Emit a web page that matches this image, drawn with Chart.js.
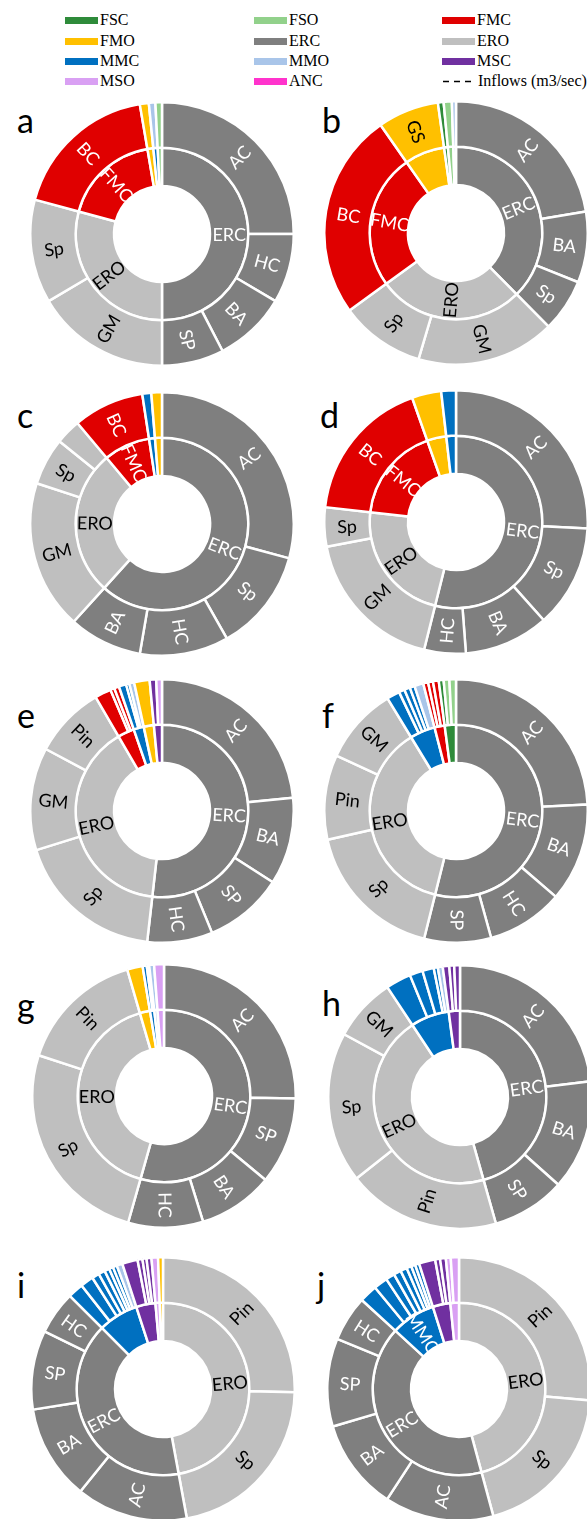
<!DOCTYPE html>
<html>
<head>
<meta charset="utf-8">
<script src="https://cdn.jsdelivr.net/npm/chart.js@4.4.1/dist/chart.umd.min.js"></script>
<style>
  html, body { margin:0; padding:0; background:#fff; }
  body { width:587px; height:1519px; position:relative; overflow:hidden; }
  .leg { position:absolute; font-family:'Liberation Serif','Times New Roman',serif; font-size:16px; color:#000; line-height:16px; white-space:nowrap; }
  .sw { position:absolute; width:33px; height:7px; }
  .dash { position:absolute; }
  .letter { position:absolute; font-family:Lato,'Open Sans',sans-serif; font-size:34px; color:#000; line-height:1; }
  canvas { position:absolute; }
</style>
</head>
<body>
<script>
// ---------- legend ----------
const legendNames = ['FSC','FSO','FMC','FMO','ERC','ERO','MMC','MMO','MSC','MSO','ANC'];
const legendLineName = 'Inflows (m3/sec)';

// ---------- panel data (shares, % of total inflow) ----------
const aInnerCat = ['ERC','ERO','FMC','FMO','MMC','FSO'];
const aInnerVal = [50, 29.2, 18.1, 1.1, 0.8, 0.8];
const aInnerTxt = ['ERC','ERO','FMC','','',''];
const aOuterCat = ['ERC','ERC','ERC','ERC','ERO','ERO','FMC','FMO','MMO','FSO'];
const aOuterVal = [25, 8.5, 8.9, 7.6, 16.5, 12.7, 18.1, 1.1, 0.8, 0.8];
const aOuterTxt = ['AC','HC','BA','SP','GM','Sp','BC','','',''];

const bInnerCat = ['ERC','ERO','FMC','FMO','FSC','FSO','MMO'];
const bInnerVal = [37.6, 27.4, 25.3, 7.5, 0.7, 1.0, 0.5];
const bInnerTxt = ['ERC','ERO','FMC','','','',''];
const bOuterCat = ['ERC','ERC','ERC','ERO','ERO','FMC','FMO','FSC','FSO','MMO'];
const bOuterVal = [22.4, 8.7, 6.5, 17.0, 10.4, 25.3, 7.5, 0.7, 1.0, 0.5];
const bOuterTxt = ['AC','BA','Sp','GM','Sp','BC','GS','','',''];

const cInnerCat = ['ERC','ERO','FMC','MMC','FMO'];
const cInnerVal = [61.7, 27.2, 8.7, 1.1, 1.3];
const cInnerTxt = ['ERC','ERO','FMC','',''];
const cOuterCat = ['ERC','ERC','ERC','ERC','ERO','ERO','ERO','FMC','MMC','FMO'];
const cOuterVal = [29.2, 12.6, 10.9, 9.0, 18.3, 5.8, 3.1, 8.7, 1.1, 1.3];
const cOuterTxt = ['AC','Sp','HC','BA','GM','Sp','','BC','',''];

const dInnerCat = ['ERC','ERO','FMC','FMO','MMC'];
const dInnerVal = [53.9, 22.9, 17.8, 3.6, 1.8];
const dInnerTxt = ['ERC','ERO','FMC','',''];
const dOuterCat = ['ERC','ERC','ERC','ERC','ERO','ERO','FMC','FMO','MMC'];
const dOuterVal = [25.8, 12.6, 10.4, 5.1, 18.1, 4.8, 17.8, 3.6, 1.8];
const dOuterTxt = ['AC','Sp','BA','HC','GM','Sp','BC','',''];

const eInnerCat = ['ERC','ERO','FMC','MMC','FMO','MSC'];
const eInnerVal = [51.8, 39.8, 3.1, 1.9, 1.9, 1.5];
const eInnerTxt = ['ERC','ERO','','','',''];
const eOuterCat = ['ERC','ERC','ERC','ERC','ERO','ERO','ERO','FMC','FMC','FMC','MMC','MMC','MMO','FMO','MSC','MSO'];
const eOuterVal = [23.4, 10.7, 9.7, 8.0, 18.4, 12.6, 8.8, 2.0, 0.5, 0.6, 0.9, 0.4, 0.6, 1.9, 0.8, 0.7];
const eOuterTxt = ['AC','BA','SP','HC','Sp','GM','Pin','','','','','','','','',''];

const fInnerCat = ['ERC','ERO','MMC','FMC','FSC'];
const fInnerVal = [53.9, 37.4, 4.7, 1.9, 2.1];
const fInnerTxt = ['ERC','ERO','','',''];
const fOuterCat = ['ERC','ERC','ERC','ERC','ERO','ERO','ERO','MMC','MMC','MMC','MMC','MMO','FMC','FMC','FMC','FSC','FSO','FSO'];
const fOuterVal = [24.2, 12.1, 9.4, 8.2, 17.6, 10.4, 9.4, 1.6, 0.7, 0.7, 0.6, 1.1, 0.6, 0.6, 0.7, 0.6, 0.7, 0.8];
const fOuterTxt = ['AC','BA','HC','SP','Sp','Pin','GM','','','','','','','','','','',''];

const gInnerCat = ['ERC','ERO','FMO','MMC','MMO','MSO'];
const gInnerVal = [54.4, 41.1, 1.9, 0.8, 0.6, 1.2];
const gInnerTxt = ['ERC','ERO','','','',''];
const gOuterCat = ['ERC','ERC','ERC','ERC','ERO','ERO','FMO','MMC','MMC','MMO','MSO'];
const gOuterVal = [25.3, 10.7, 9.2, 9.2, 25.6, 15.5, 1.9, 0.5, 0.3, 0.6, 1.2];
const gOuterTxt = ['AC','SP','BA','HC','Sp','Pin','','','','',''];

const hInnerCat = ['ERC','ERO','MMC','MSC'];
const hInnerVal = [45.6, 45.1, 7.2, 2.1];
const hInnerTxt = ['ERC','ERO','',''];
const hOuterCat = ['ERC','ERC','ERC','ERO','ERO','ERO','MMC','MMC','MMC','MMC','MMO','MSC','MSC','MSC'];
const hOuterVal = [23.1, 13.5, 9.0, 18.8, 18.5, 7.8, 3.1, 1.6, 1.4, 0.5, 0.6, 0.8, 0.6, 0.7];
const hOuterTxt = ['AC','BA','SP','Pin','Sp','GM','','','','','','','',''];

const iInnerCat = ['ERO','ERC','MMC','MSC','MSO','FMO'];
const iInnerVal = [47.1, 40.4, 7.5, 3.6, 0.8, 0.6];
const iInnerTxt = ['ERO','ERC','','','',''];
const iOuterCat = ['ERO','ERO','ERC','ERC','ERC','ERC','MMC','MMC','MMC','MMC','MMC','MMC','MMC','MMO','MSC','MSC','MSC','MSC','MSO','FMO'];
const iOuterVal = [25.4, 21.7, 13.7, 11.7, 9.7, 5.3, 1.9, 1.6, 0.9, 0.8, 0.6, 0.5, 0.5, 0.7, 1.9, 0.6, 0.5, 0.6, 0.8, 0.6];
const iOuterTxt = ['Pin','Sp','AC','BA','SP','HC','','','','','','','','','','','','','',''];

const jInnerCat = ['ERO','ERC','MMC','MSC','MSO'];
const jInnerVal = [45.8, 41.0, 8.3, 3.3, 1.6];
const jInnerTxt = ['ERO','ERC','MMC','',''];
const jOuterCat = ['ERO','ERO','ERC','ERC','ERC','ERC','MMC','MMC','MMC','MMC','MMC','MMC','MMC','MMC','MSC','MSC','MSC','MSO','MSO'];
const jOuterVal = [26.4, 19.4, 13.4, 11.2, 10.8, 5.6, 2.2, 1.7, 1.1, 0.9, 0.8, 0.6, 0.5, 0.5, 2.0, 0.6, 0.7, 0.6, 1.0];
const jOuterTxt = ['Pin','Sp','AC','BA','SP','HC','','','','','','','','','','','','',''];

// ---------- styles / layout ----------
const catColors = {
  FSC:'#2e8b3a', FSO:'#92d18b', FMC:'#e00000', FMO:'#ffc000', ERC:'#7f7f7f', ERO:'#bfbfbf',
  MMC:'#0070c0', MMO:'#a9c5e9', MSC:'#7030a0', MSO:'#d9a0f3', ANC:'#ff33cc'
};
const panels = [
  {letter:'a', cx:162, cy:234, lx:17,  ly:130,  inner:[aInnerCat,aInnerVal,aInnerTxt], outer:[aOuterCat,aOuterVal,aOuterTxt]},
  {letter:'b', cx:456, cy:233, lx:322, ly:130,  inner:[bInnerCat,bInnerVal,bInnerTxt], outer:[bOuterCat,bOuterVal,bOuterTxt]},
  {letter:'c', cx:162, cy:524, lx:17,  ly:425,  inner:[cInnerCat,cInnerVal,cInnerTxt], outer:[cOuterCat,cOuterVal,cOuterTxt]},
  {letter:'d', cx:456, cy:522, lx:320, ly:425,  inner:[dInnerCat,dInnerVal,dInnerTxt], outer:[dOuterCat,dOuterVal,dOuterTxt]},
  {letter:'e', cx:162, cy:811, lx:17,  ly:725,  inner:[eInnerCat,eInnerVal,eInnerTxt], outer:[eOuterCat,eOuterVal,eOuterTxt]},
  {letter:'f', cx:456, cy:811, lx:322, ly:725,  inner:[fInnerCat,fInnerVal,fInnerTxt], outer:[fOuterCat,fOuterVal,fOuterTxt]},
  {letter:'g', cx:164, cy:1096, lx:17, ly:1015, inner:[gInnerCat,gInnerVal,gInnerTxt], outer:[gOuterCat,gOuterVal,gOuterTxt]},
  {letter:'h', cx:460, cy:1097, lx:322, ly:1013, inner:[hInnerCat,hInnerVal,hInnerTxt], outer:[hOuterCat,hOuterVal,hOuterTxt]},
  {letter:'i', cx:163, cy:1389, lx:17, ly:1295, inner:[iInnerCat,iInnerVal,iInnerTxt], outer:[iOuterCat,iOuterVal,iOuterTxt]},
  {letter:'j', cx:459, cy:1389, lx:317, ly:1295, inner:[jInnerCat,jInnerVal,jInnerTxt], outer:[jOuterCat,jOuterVal,jOuterTxt]}
];

// legend
const legX = [65, 254, 442], legY = [20, 41, 61, 81];
legendNames.forEach((n, k) => {
  const col = k % 3, row = Math.floor(k / 3);
  const sw = document.createElement('div'); sw.className = 'sw';
  sw.style.left = legX[col] + 'px'; sw.style.top = (legY[row] - 3.5) + 'px'; sw.style.background = catColors[n];
  document.body.appendChild(sw);
  const t = document.createElement('div'); t.className = 'leg'; t.textContent = n;
  t.style.left = (legX[col] + 35) + 'px'; t.style.top = (legY[row] - 8) + 'px';
  document.body.appendChild(t);
});
{
  const ns = 'http://www.w3.org/2000/svg';
  const svg = document.createElementNS(ns, 'svg');
  svg.setAttribute('width', '30'); svg.setAttribute('height', '6');
  svg.setAttribute('class', 'dash');
  svg.style.left = (legX[2] + 1) + 'px'; svg.style.top = (legY[3] - 3) + 'px';
  const ln = document.createElementNS(ns, 'line');
  ln.setAttribute('x1', '0'); ln.setAttribute('x2', '30'); ln.setAttribute('y1', '3.5'); ln.setAttribute('y2', '3.5');
  ln.setAttribute('stroke', '#000'); ln.setAttribute('stroke-width', '1.6'); ln.setAttribute('stroke-dasharray', '6,5');
  svg.appendChild(ln); document.body.appendChild(svg);
  const t = document.createElement('div'); t.className = 'leg'; t.textContent = legendLineName;
  t.style.left = (legX[2] + 36) + 'px'; t.style.top = (legY[3] - 8) + 'px'; document.body.appendChild(t);
}

function textColor(hex) {
  const r = parseInt(hex.slice(1,3),16), g = parseInt(hex.slice(3,5),16), b = parseInt(hex.slice(5,7),16);
  return (0.299*r + 0.587*g + 0.114*b) < 150 ? '#ffffff' : '#000000';
}

const ringLabels = {
  id: 'ringLabels',
  afterDatasetsDraw(chart) {
    const ctx = chart.ctx;
    chart.data.datasets.forEach((ds, di) => {
      const meta = chart.getDatasetMeta(di);
      meta.data.forEach((arc, i) => {
        const t = ds.texts[i];
        if (!t) return;
        const p = arc.getProps(['x','y','startAngle','endAngle','innerRadius','outerRadius'], true);
        const a = (p.startAngle + p.endAngle) / 2;
        const r = (p.innerRadius + p.outerRadius) / 2;
        const x = p.x + r * Math.cos(a), y = p.y + r * Math.sin(a);
        const n = ((a % (2*Math.PI)) + 2*Math.PI) % (2*Math.PI);
        const rot = (n > Math.PI/2 + 1e-6 && n < 3*Math.PI/2) ? a - Math.PI : a;
        ctx.save();
        ctx.translate(x, y);
        ctx.rotate(rot);
        ctx.fillStyle = textColor(ds.backgroundColor[i]);
        ctx.font = '18px Lato, "Open Sans", sans-serif';
        ctx.textAlign = 'center';
        ctx.textBaseline = 'middle';
        ctx.fillText(t, 0, 1);
        ctx.restore();
      });
    });
  }
};

const SIZE = 266;
panels.forEach(pn => {
  const L = document.createElement('div'); L.className = 'letter'; L.textContent = pn.letter;
  L.style.left = pn.lx + 'px'; L.style.top = (pn.ly - 27) + 'px';
  document.body.appendChild(L);

  const cv = document.createElement('canvas');
  cv.width = SIZE; cv.height = SIZE;
  cv.style.width = SIZE + 'px'; cv.style.height = SIZE + 'px';
  cv.style.left = (pn.cx - SIZE/2) + 'px'; cv.style.top = (pn.cy - SIZE/2) + 'px';
  document.body.appendChild(cv);

  const [oc, ov, ot] = pn.outer, [ic, iv, it] = pn.inner;
  new Chart(cv, {
    type: 'doughnut',
    data: {
      datasets: [
        { data: ov, backgroundColor: oc.map(c => catColors[c]), borderColor: '#ffffff', borderWidth: 2.5, weight: 45, texts: ot },
        { data: iv, backgroundColor: ic.map(c => catColors[c]), borderColor: '#ffffff', borderWidth: 2.5, weight: 38, texts: it }
      ]
    },
    options: {
      responsive: false,
      animation: false,
      devicePixelRatio: 1,
      cutout: 48,
      events: [],
      layout: { padding: 0 },
      plugins: { legend: { display: false }, tooltip: { enabled: false } }
    },
    plugins: [ringLabels]
  });
});
</script>
</body>
</html>
